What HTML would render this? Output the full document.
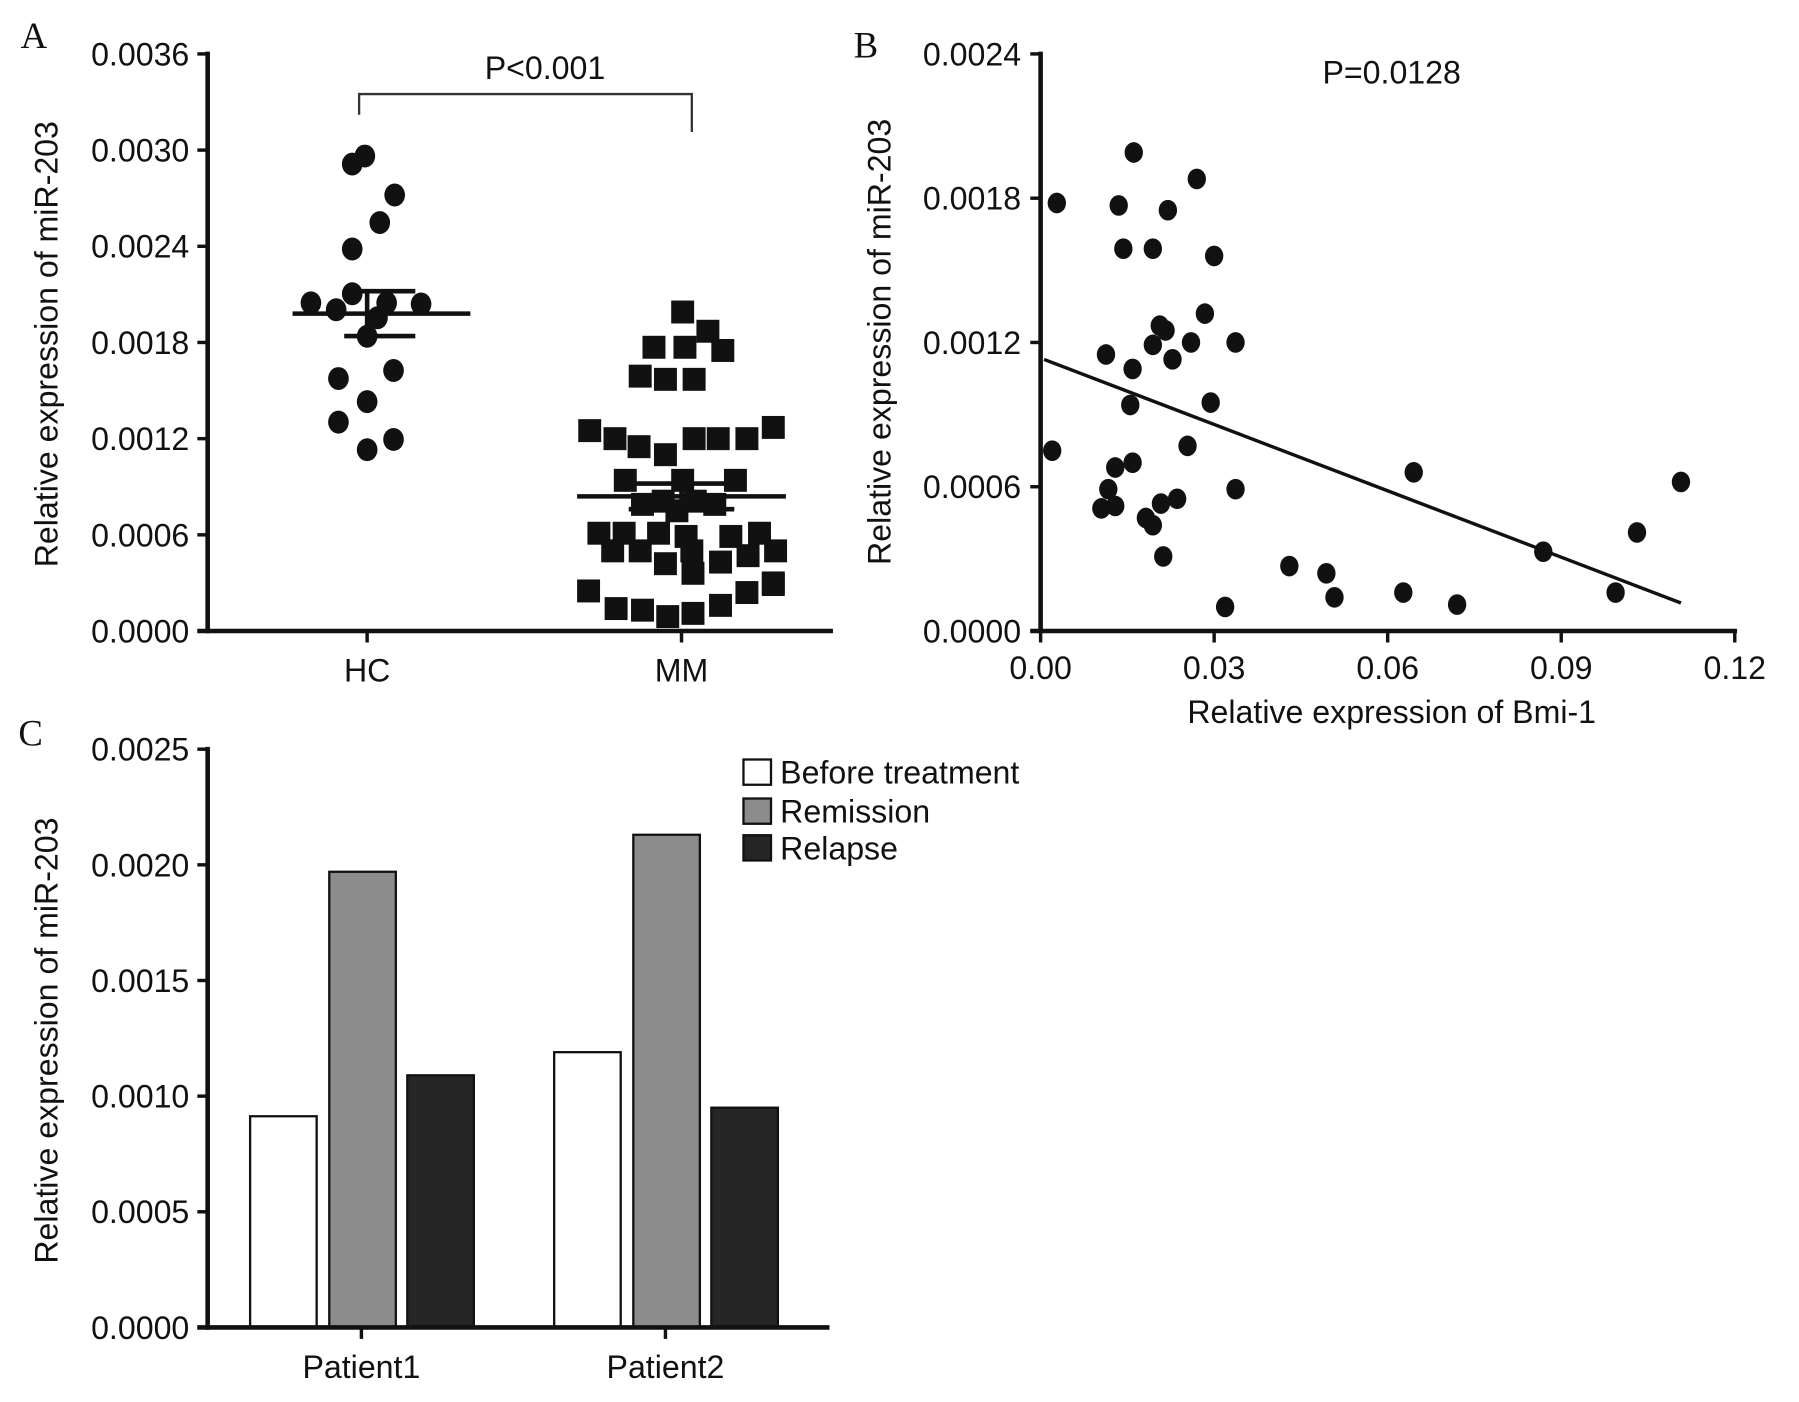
<!DOCTYPE html>
<html><head><meta charset="utf-8"><style>
html,body{margin:0;padding:0;background:#fff}
svg{display:block}
text{font-family:"Liberation Sans",Arial,sans-serif;fill:#111}
text.serif{font-family:"Liberation Serif",serif}
</style></head><body>
<svg id="fig" width="1799" height="1402" viewBox="0 0 1568 1222" preserveAspectRatio="none" xmlns="http://www.w3.org/2000/svg">
<g id="pA"></g>
<g id="pB"></g>
<g id="pC"></g>
</svg>
<script>
// Panel A data
const hcValues=[0.002913,0.002963,0.00272,0.002548,0.002383,0.002104,0.002047,0.002047,0.002004,0.00204,0.001954,0.001839,0.001575,0.001625,0.001431,0.001303,0.001195,0.001131];
const hcJitter=[-13,-2,24,11,-13,-13,-49,17,-27,47,9,0,-25,23,0,-25,23,0];
const mmValues=[0.00199,0.00187,0.00177,0.00177,0.00175,0.00159,0.00157,0.00157,0.00125,0.0012,0.00115,0.0011,0.0012,0.0012,0.0012,0.00127,0.00094,0.00094,0.00094,0.00079,0.00081,0.00075,0.00081,0.00079,0.00061,0.00061,0.00061,0.00059,0.00059,0.00061,0.0005,0.0005,0.00042,0.0005,0.00043,0.00047,0.0005,0.00025,0.00036,0.0003,0.00014,0.00013,0.00009,0.00011,0.00016,0.00024,0.00029];
const mmJitter=[1,23,-24,3,36,-36,-14,11,-80,-58,-37,-14,11,32,57,80,-49,1,47,-34,-16,-4,12,29,-72,-50,-20,4,43,68,-60,-36,-14,9,34,58,82,-81,10,80,-57,-34,-12,10,34,57,80];
const aTicks=[0,0.0006,0.0012,0.0018,0.0024,0.003,0.0036];
const aTickLabels=["0.0000","0.0006","0.0012","0.0018","0.0024","0.0030","0.0036"];
const aCategories=["HC","MM"];
const aMeans=[0.00198,0.00084];
const aSem=[0.00014,0.00008];
// Panel B data
const bmiX=[0.0028,0.0161,0.027,0.0135,0.022,0.0143,0.0194,0.03,0.0284,0.0206,0.0216,0.0194,0.026,0.0337,0.0113,0.0228,0.0159,0.0155,0.0294,0.002,0.0254,0.0129,0.0159,0.0645,0.1107,0.0117,0.0337,0.0129,0.0105,0.0208,0.0236,0.0182,0.0194,0.0212,0.043,0.0494,0.0508,0.0627,0.072,0.0319,0.0869,0.1031,0.0994];
const mirY=[0.00178,0.00199,0.00188,0.00177,0.00175,0.00159,0.00159,0.00156,0.00132,0.00127,0.00125,0.00119,0.0012,0.0012,0.00115,0.00113,0.00109,0.00094,0.00095,0.00075,0.00077,0.00068,0.0007,0.00066,0.00062,0.00059,0.00059,0.00052,0.00051,0.00053,0.00055,0.00047,0.00044,0.00031,0.00027,0.00024,0.00014,0.00016,0.00011,0.0001,0.00033,0.00041,0.00016];
const bXTicks=[0,0.03,0.06,0.09,0.12];
const bXTickLabels=["0.00","0.03","0.06","0.09","0.12"];
const bYTicks=[0,0.0006,0.0012,0.0018,0.0024];
const bYTickLabels=["0.0000","0.0006","0.0012","0.0018","0.0024"];
const fitIntercept=0.001135, fitSlope=-0.0092, fitRange=[0.0006,0.1107];
// Panel C data
const cCategories=["Patient1","Patient2"];
const cSeries=["Before treatment","Remission","Relapse"];
const cBefore=[0.000913,0.00119];
const cRemission=[0.00197,0.00213];
const cRelapse=[0.00109,0.00095];
const cTicks=[0,0.0005,0.001,0.0015,0.002,0.0025];
const cTickLabels=["0.0000","0.0005","0.0010","0.0015","0.0020","0.0025"];

const FS=28;
const NS="http://www.w3.org/2000/svg";
function mk(parent,tag,attrs,txt){const e=document.createElementNS(NS,tag);for(const k in attrs)e.setAttribute(k,attrs[k]);if(txt!==undefined)e.textContent=txt;parent.appendChild(e);return e;}

// ---------- Panel A ----------
const A=document.getElementById('pA');
const ayS=v=>550-v/0.0036*503;
const axS=i=>[320,594][i];
let t=mk(A,'text',{x:18,y:42,'font-size':32,'class':'serif'},'A');


let l=mk(A,'line',{x1:181,y1:45,x2:181,y2:552,stroke:'#111','stroke-width':4});


l=mk(A,'line',{x1:172,y1:550,x2:726,y2:550,stroke:'#111','stroke-width':4});


aTicks.forEach((v,i)=>{const y=ayS(v);
 const tk=mk(A,'line',{x1:172,y1:y,x2:181,y2:y,stroke:'#111','stroke-width':3});
 
 
 const tl=mk(A,'text',{x:165,y:y+10,'font-size':FS,'text-anchor':'end'},aTickLabels[i]);
 
 });
aCategories.forEach((c,i)=>{const x=axS(i);
 const tk=mk(A,'line',{x1:x,y1:550,x2:x,y2:560,stroke:'#111','stroke-width':3});
 
 
 const tl=mk(A,'text',{x:x,y:594,'font-size':FS,'text-anchor':'middle'},c);
 
 });
t=mk(A,'text',{x:0,y:0,'font-size':FS,'text-anchor':'middle',transform:'translate(50,300) rotate(-90)'},'Relative expression of miR-203');


hcValues.forEach((v,i)=>{const c=mk(A,'ellipse',{cx:axS(0)+hcJitter[i],cy:ayS(v),rx:9,ry:10,fill:'#111'});
 
 });
mmValues.forEach((v,i)=>{const r=mk(A,'rect',{x:axS(1)+mmJitter[i]-10,y:ayS(v)-10,width:20,height:20,fill:'#111'});
 
 });
const meanW=[[255,410],[503,685]], semW=[[300,362],[548,640]];
aMeans.forEach((m,i)=>{const x=axS(i);
 const ml=mk(A,'line',{x1:meanW[i][0],y1:ayS(m),x2:meanW[i][1],y2:ayS(m),stroke:'#111','stroke-width':4});
 
 
 const p=mk(A,'path',{d:`M${semW[i][0]},${ayS(m+aSem[i])}H${semW[i][1]}M${semW[i][0]},${ayS(m-aSem[i])}H${semW[i][1]}M${x},${ayS(m+aSem[i])}V${ayS(m-aSem[i])}`,stroke:'#111','stroke-width':4,fill:'none'});
 
 });
let p=mk(A,'path',{d:'M313,100V82H603V115',stroke:'#333','stroke-width':2,fill:'none'});


t=mk(A,'text',{x:475,y:69,'font-size':FS,'text-anchor':'middle'},'P<0.001');



// ---------- Panel B ----------
const B=document.getElementById('pB');
const bx=v=>907+v/0.12*605;
const by=v=>550-v/0.0024*503;
t=mk(B,'text',{x:744,y:50,'font-size':32,'class':'serif'},'B');


l=mk(B,'line',{x1:907,y1:45,x2:907,y2:552,stroke:'#111','stroke-width':4});


l=mk(B,'line',{x1:898,y1:550,x2:1514,y2:550,stroke:'#111','stroke-width':4});


bYTicks.forEach((v,i)=>{const y=by(v);
 const tk=mk(B,'line',{x1:898,y1:y,x2:907,y2:y,stroke:'#111','stroke-width':3});
 
 
 const tl=mk(B,'text',{x:890,y:y+10,'font-size':FS,'text-anchor':'end'},bYTickLabels[i]);
 
 });
bXTicks.forEach((v,i)=>{const x=bx(v);
 const tk=mk(B,'line',{x1:x,y1:550,x2:x,y2:560,stroke:'#111','stroke-width':3});
 
 
 const tl=mk(B,'text',{x:x,y:592,'font-size':FS,'text-anchor':'middle'},bXTickLabels[i]);
 
 });
t=mk(B,'text',{x:1213,y:630,'font-size':FS,'text-anchor':'middle'},'Relative expression of Bmi-1');


t=mk(B,'text',{x:0,y:0,'font-size':FS,'text-anchor':'middle',transform:'translate(776,298) rotate(-90)'},'Relative expression of miR-203');


bmiX.forEach((v,i)=>{const c=mk(B,'ellipse',{cx:bx(v),cy:by(mirY[i]),rx:8,ry:9,fill:'#111'});
 
 });
l=mk(B,'line',{x1:bx(fitRange[0]),y1:by(fitIntercept+fitSlope*fitRange[0]),x2:bx(fitRange[1]),y2:by(fitIntercept+fitSlope*fitRange[1]),stroke:'#111','stroke-width':3});


t=mk(B,'text',{x:1213,y:73,'font-size':FS,'text-anchor':'middle'},'P=0.0128');



// ---------- Panel C ----------
const C=document.getElementById('pC');
const cy=v=>1157-v/0.0025*504;
const groupX=[315,580];
const barW=58, barOff=[-97,-28,40];
const colors=['#ffffff','#8c8c8c','#262626'];
t=mk(C,'text',{x:16,y:650,'font-size':32,'class':'serif'},'C');


cTicks.forEach((v,i)=>{const y=cy(v);
 const tk=mk(C,'line',{x1:172,y1:y,x2:181,y2:y,stroke:'#111','stroke-width':3});
 
 
 const tl=mk(C,'text',{x:165,y:y+10,'font-size':FS,'text-anchor':'end'},cTickLabels[i]);
 
 });
t=mk(C,'text',{x:0,y:0,'font-size':FS,'text-anchor':'middle',transform:'translate(50,907) rotate(-90)'},'Relative expression of miR-203');


[cBefore,cRemission,cRelapse].forEach((arr,s)=>{arr.forEach((v,i)=>{
 const r=mk(C,'rect',{x:groupX[i]+barOff[s],y:cy(v),width:barW,height:1157-cy(v),fill:colors[s],stroke:'#111','stroke-width':2});
 
 });});
l=mk(C,'line',{x1:181,y1:651,x2:181,y2:1159,stroke:'#111','stroke-width':4});


l=mk(C,'line',{x1:172,y1:1157,x2:723,y2:1157,stroke:'#111','stroke-width':4});


cCategories.forEach((c,i)=>{const x=groupX[i];
 const tk=mk(C,'line',{x1:x,y1:1157,x2:x,y2:1167,stroke:'#111','stroke-width':3});
 
 
 const tl=mk(C,'text',{x:x,y:1201,'font-size':FS,'text-anchor':'middle'},c);
 
 });
const legY=[662,696,728];
cSeries.forEach((s,i)=>{
 const r=mk(C,'rect',{x:648,y:legY[i],width:24,height:22,fill:colors[i],stroke:'#111','stroke-width':2});
 
 
 const tl=mk(C,'text',{x:680,y:legY[i]+21,'font-size':FS},s);
 
 });
</script>
</body></html>
